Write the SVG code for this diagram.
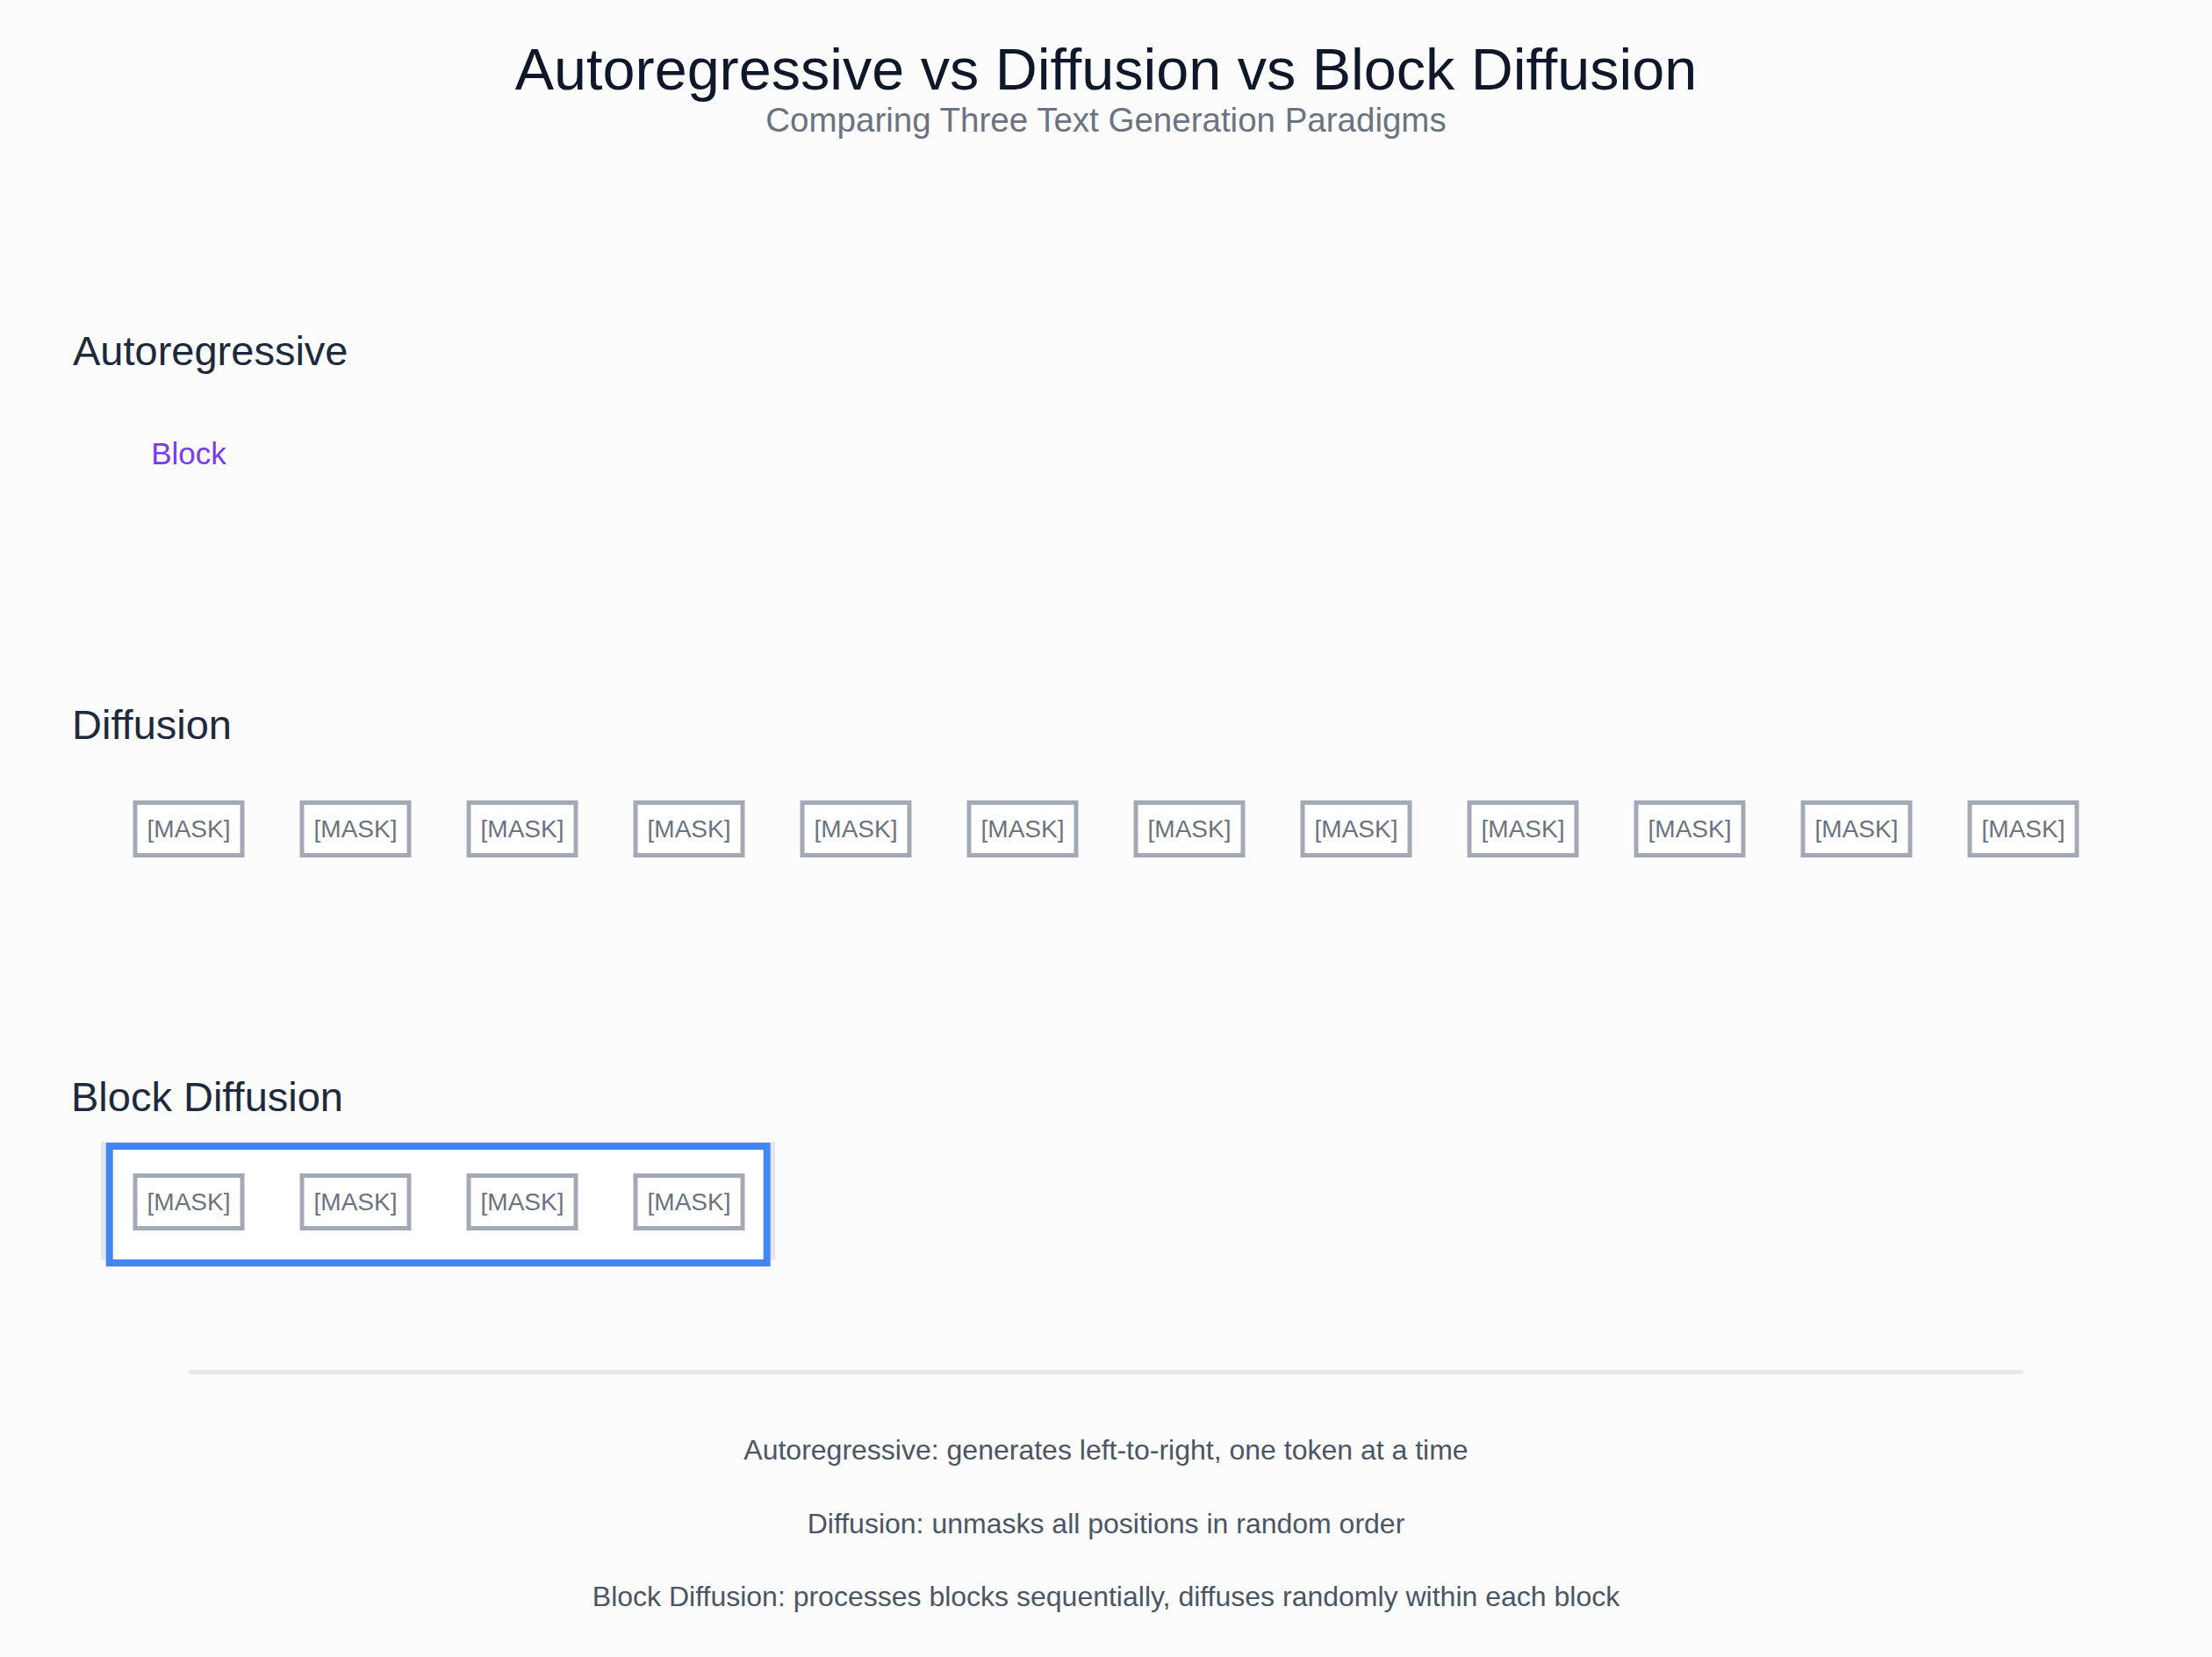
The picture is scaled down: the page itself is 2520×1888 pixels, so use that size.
<svg xmlns="http://www.w3.org/2000/svg" width="2520" height="1888" viewBox="0 0 2520 1888">
  <style>
    text { font-family: "Liberation Sans", Arial, Helvetica, sans-serif; }
    .title { font-size: 66.5px; fill: #0f172a; text-anchor: middle; }
    .subtitle { font-size: 38.5px; fill: #6b7280; text-anchor: middle; }
    .heading { font-size: 47px; fill: #1e293b; }
    .tok { fill: #ffffff; stroke: #a3aab6; stroke-width: 5; }
    .toklbl { font-size: 28px; fill: #6b7280; text-anchor: middle; }
    .note { font-size: 32px; fill: #4b5563; text-anchor: middle; }
    .blocklbl { font-size: 35px; fill: #7c3aed; text-anchor: middle; }
  </style>
  <rect width="2520" height="1888" fill="#fcfcfd"/>

  <g id="header">
    <text class="title" x="1260" y="102">Autoregressive vs Diffusion vs Block Diffusion</text>
    <text class="subtitle" x="1260" y="150">Comparing Three Text Generation Paradigms</text>
  </g>

  <g id="section-autoregressive">
    <text class="heading" x="83" y="416">Autoregressive</text>
    <text class="blocklbl" x="215" y="529">Block</text>
  </g>

  <g id="section-diffusion">
    <text class="heading" x="82" y="842">Diffusion</text>
    <g id="diff-tok-1"><rect class="tok" x="154" y="914.5" width="122" height="60"/><text class="toklbl" x="215" y="953.5">[MASK]</text></g>
    <g id="diff-tok-2"><rect class="tok" x="344" y="914.5" width="122" height="60"/><text class="toklbl" x="405" y="953.5">[MASK]</text></g>
    <g id="diff-tok-3"><rect class="tok" x="534" y="914.5" width="122" height="60"/><text class="toklbl" x="595" y="953.5">[MASK]</text></g>
    <g id="diff-tok-4"><rect class="tok" x="724" y="914.5" width="122" height="60"/><text class="toklbl" x="785" y="953.5">[MASK]</text></g>
    <g id="diff-tok-5"><rect class="tok" x="914" y="914.5" width="122" height="60"/><text class="toklbl" x="975" y="953.5">[MASK]</text></g>
    <g id="diff-tok-6"><rect class="tok" x="1104" y="914.5" width="122" height="60"/><text class="toklbl" x="1165" y="953.5">[MASK]</text></g>
    <g id="diff-tok-7"><rect class="tok" x="1294" y="914.5" width="122" height="60"/><text class="toklbl" x="1355" y="953.5">[MASK]</text></g>
    <g id="diff-tok-8"><rect class="tok" x="1484" y="914.5" width="122" height="60"/><text class="toklbl" x="1545" y="953.5">[MASK]</text></g>
    <g id="diff-tok-9"><rect class="tok" x="1674" y="914.5" width="122" height="60"/><text class="toklbl" x="1735" y="953.5">[MASK]</text></g>
    <g id="diff-tok-10"><rect class="tok" x="1864" y="914.5" width="122" height="60"/><text class="toklbl" x="1925" y="953.5">[MASK]</text></g>
    <g id="diff-tok-11"><rect class="tok" x="2054" y="914.5" width="122" height="60"/><text class="toklbl" x="2115" y="953.5">[MASK]</text></g>
    <g id="diff-tok-12"><rect class="tok" x="2244" y="914.5" width="122" height="60"/><text class="toklbl" x="2305" y="953.5">[MASK]</text></g>
  </g>

  <g id="section-block-diffusion">
    <text class="heading" x="81" y="1266">Block Diffusion</text>
    <g id="block-1">
      <rect x="115" y="1301" width="768" height="135" fill="#e5e7eb"/>
      <rect x="124.7" y="1306" width="749" height="133" fill="#ffffff" stroke="#4285f4" stroke-width="8"/>
    </g>
    <g id="blk-tok-1"><rect class="tok" x="154" y="1339.5" width="122" height="60"/><text class="toklbl" x="215" y="1378.5">[MASK]</text></g>
    <g id="blk-tok-2"><rect class="tok" x="344" y="1339.5" width="122" height="60"/><text class="toklbl" x="405" y="1378.5">[MASK]</text></g>
    <g id="blk-tok-3"><rect class="tok" x="534" y="1339.5" width="122" height="60"/><text class="toklbl" x="595" y="1378.5">[MASK]</text></g>
    <g id="blk-tok-4"><rect class="tok" x="724" y="1339.5" width="122" height="60"/><text class="toklbl" x="785" y="1378.5">[MASK]</text></g>
  </g>

  <g id="connectors">
    <line x1="215" y1="1563.5" x2="2305" y2="1563.5" stroke="#e5e7eb" stroke-width="5"/>
  </g>

  <g id="legend">
    <text class="note" x="1260" y="1663">Autoregressive: generates left-to-right, one token at a time</text>
    <text class="note" x="1260" y="1747">Diffusion: unmasks all positions in random order</text>
    <text class="note" x="1260" y="1830">Block Diffusion: processes blocks sequentially, diffuses randomly within each block</text>
  </g>
</svg>
